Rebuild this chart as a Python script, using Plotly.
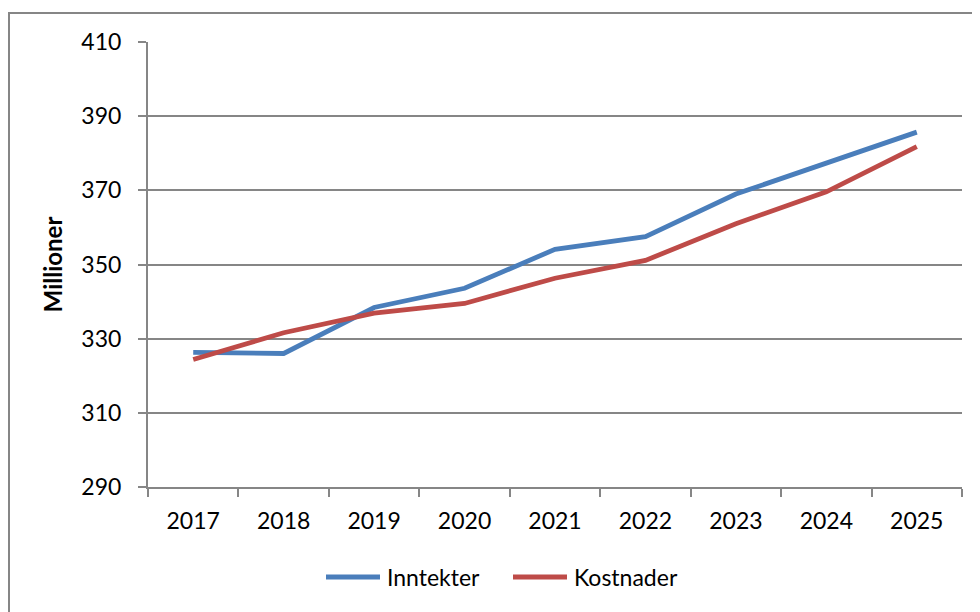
import plotly.graph_objects as go

years = ["2017", "2018", "2019", "2020", "2021", "2022", "2023", "2024", "2025"]
inntekter = [326.3, 326.0, 338.4, 343.6, 354.1, 357.5, 369.0, 377.2, 385.7]
kostnader = [324.4, 331.6, 336.9, 339.5, 346.3, 351.1, 361.0, 369.6, 381.8]
y_ticks = [290, 310, 330, 350, 370, 390, 410]
names = ["Inntekter", "Kostnader"]
colors = ["#4A7EBB", "#BE4B48"]

FONT = "Lato, Carlito, Calibri, sans-serif"
GRID = "#868686"

# page body has an 8px margin, so work in shifted coordinates
OFF = 8
W, H = 980 - OFF, 612 - OFF
left, right, top, bottom = 148 - OFF, 962 - OFF, 42 - OFF, 487 - OFF
ml, mr, mt, mb = left, W - right, top, H - bottom
pw, ph = right - left, bottom - top

def px_x(x):
    return (x - OFF - ml) / pw

def px_y(y):
    return (bottom - (y - OFF)) / ph

fig = go.Figure()
for name, vals, col in zip(names, [inntekter, kostnader], colors):
    fig.add_trace(go.Scatter(x=years, y=vals, name=name, mode="lines",
                             line=dict(color=col, width=4.8), showlegend=False))

fig.add_shape(type="rect", xref="paper", yref="paper",
              x0=px_x(9), x1=px_x(1000), y0=px_y(630), y1=px_y(13),
              line=dict(color=GRID, width=2), fillcolor="rgba(0,0,0,0)", layer="below")

# legend drawn manually
leg_y = 577
leg = [(326, 380, 385), (513, 567, 572)]
for (x0, x1, tx), name, col in zip(leg, names, colors):
    fig.add_shape(type="line", xref="paper", yref="paper",
                  x0=px_x(x0), x1=px_x(x1), y0=px_y(leg_y), y1=px_y(leg_y),
                  line=dict(color=col, width=5))
    fig.add_annotation(xref="paper", yref="paper", x=px_x(tx), y=px_y(leg_y),
                       text=name, showarrow=False, xanchor="left", yanchor="middle",
                       font=dict(size=23, family=FONT, color="#000"))

fig.update_layout(
    width=W, height=H,
    margin=dict(l=ml, r=mr, t=mt, b=mb),
    paper_bgcolor="white", plot_bgcolor="white",
    font=dict(family=FONT, size=23, color="#000000"),
    showlegend=False,
    xaxis=dict(type="category", range=[-0.5, 8.5], tickson="boundaries",
               ticks="outside", ticklen=8, tickcolor=GRID, tickwidth=2,
               showline=True, linecolor=GRID, linewidth=2, showgrid=False,
               zeroline=False, tickfont=dict(size=23), ticklabelstandoff=12),
    yaxis=dict(range=[290, 410], tickvals=y_ticks, ticks="outside", ticklen=8,
               tickcolor=GRID, tickwidth=2, showline=True, linecolor=GRID, linewidth=2,
               showgrid=True, gridcolor=GRID, gridwidth=2, zeroline=False,
               tickfont=dict(size=23), ticklabelstandoff=12,
               title=dict(text="<b>Millioner</b>", font=dict(size=24), standoff=12)),
)

fig.write_html("out.html")
